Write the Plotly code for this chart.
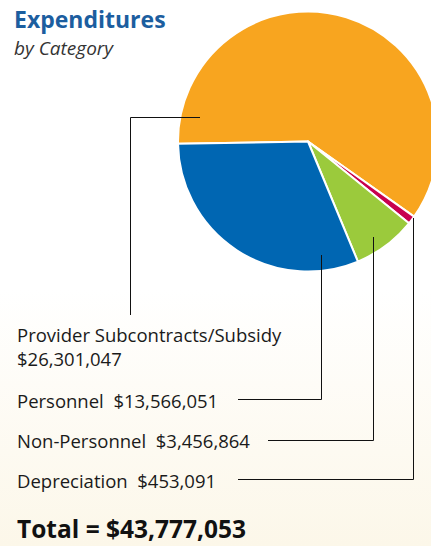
import plotly.graph_objects as go

# ---- data ----
categories = ["Provider Subcontracts/Subsidy", "Depreciation", "Non-Personnel", "Personnel"]
values = [26301047, 453091, 3456864, 13566051]
colors = ["#F8A51F", "#C8004E", "#9BCA3C", "#0066B2"]
label_text = {
    "Provider Subcontracts/Subsidy": "Provider Subcontracts/Subsidy<br>$26,301,047",
    "Personnel": "Personnel&nbsp; $13,566,051",
    "Non-Personnel": "Non-Personnel&nbsp; $3,456,864",
    "Depreciation": "Depreciation&nbsp; $453,091",
}
total_text = "Total = $43,777,053"

W, H = 440, 546  # slightly wider than the window so the pie can be cut at the right edge
FONT = "Open Sans"

def px(x):
    return x / W

def py(y):
    return 1 - y / H

fig = go.Figure()

# background gradient
fig.add_trace(go.Scatter(
    x=[0, 1, 1, 0, 0], y=[0, 0, 1, 1, 0], mode="lines", fill="toself",
    line=dict(width=0), hoverinfo="skip", showlegend=False,
    fillgradient=dict(type="vertical",
                      colorscale=[[0, "#FCF7E9"], [0.47, "#FFFFFF"], [1, "#FFFFFF"]]),
))

fig.add_trace(go.Pie(
    labels=categories, values=values, sort=False, direction="clockwise",
    rotation=-91, textinfo="none", hoverinfo="label+value",
    marker=dict(colors=colors, line=dict(color="white", width=2)),
    domain=dict(x=[px(178), px(438)], y=[py(272), py(11)]),
    showlegend=False,
))

ann = []
ann.append(dict(text="<b>Expenditures</b>", x=px(12), y=py(19), xanchor="left", yanchor="middle",
                font=dict(family=FONT, size=23, color="#1C5E9F")))
ann.append(dict(text="<i>by Category</i>", x=px(12), y=py(48), xanchor="left", yanchor="middle",
                font=dict(family=FONT, size=19, color="#333333")))
ypos = {"Provider Subcontracts/Subsidy": 346, "Personnel": 400, "Non-Personnel": 440, "Depreciation": 480}
for c in categories:
    ann.append(dict(text=label_text[c], x=px(15), y=py(ypos[c]), xanchor="left", yanchor="middle",
                    align="left", font=dict(family=FONT, size=18.5, color="#1a1a1a")))
ann.append(dict(text="<b>" + total_text + "</b>", x=px(15), y=py(528), xanchor="left", yanchor="middle",
                font=dict(family=FONT, size=24.5, color="#111111")))
for a in ann:
    a.update(xref="paper", yref="paper", showarrow=False)

lc = dict(color="#111111", width=1)
leaders = [
    [(200, 117.5), (130.5, 117.5), (130.5, 315)],
    [(321.5, 255), (321.5, 399.5), (238, 399.5)],
    [(373.5, 237), (373.5, 440.5), (268, 440.5)],
    [(413.5, 218), (413.5, 479.5), (238, 479.5)],
]
shapes = []
for pts in leaders:
    path = "M " + " L ".join(f"{px(x)},{py(y)}" for x, y in pts)
    shapes.append(dict(type="path", path=path, xref="paper", yref="paper", line=lc, layer="above"))

fig.update_layout(
    width=W, height=H, margin=dict(l=0, r=0, t=0, b=0),
    paper_bgcolor="white", plot_bgcolor="rgba(0,0,0,0)",
    xaxis=dict(range=[0, 1], visible=False, domain=[0, 1], fixedrange=True),
    yaxis=dict(range=[0, 1], visible=False, domain=[0, 1], fixedrange=True),
    annotations=ann, shapes=shapes, showlegend=False,
)

fig.write_html(
    "out.html",
    config={"displayModeBar": False},
    post_script="document.body.style.margin='0px';document.body.style.overflow='hidden';",
)
